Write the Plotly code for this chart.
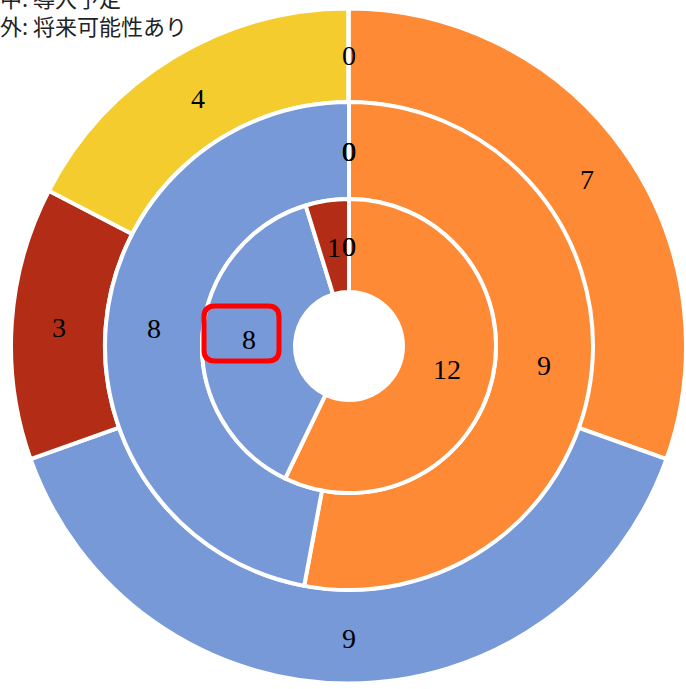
import math
import plotly.graph_objects as go

# ---- data ----
categories = ["導入済み", "検討中", "一部導入", "未定", "その他"]
inner_values = [12, 8, 1, 0, 0]
middle_values = [9, 8, 0, 0, 0]
outer_values = [7, 9, 3, 4, 0]
colors = ["#FF8A36", "#7799D8", "#B22C16", "#F4CC2E", "#A0A0A0"]
legend_lines = ["内: 導入済み", "中: 導入予定", "外: 将来可能性あり"]

# ---- layout geometry (screen pixels) ----
W, H = 686, 689
CX, CY = 349, 346
R_OUT, R_MID, R_IN, R_HOLE = 338, 244, 147, 54


def px(x):
    return x / W


def py(y):
    return 1 - y / H


def domain(r):
    return dict(x=[max(0, px(CX - r)), min(1, px(CX + r))],
                y=[max(0, py(CY + r)), min(1, py(CY - r))])


fig = go.Figure()
rings = [
    (outer_values, R_OUT, R_MID),
    (middle_values, R_MID, R_IN),
    (inner_values, R_IN, R_HOLE),
]
annotations = []
for vals, r_o, r_i in rings:
    fig.add_trace(go.Pie(
        labels=categories, values=vals, sort=False, direction="clockwise",
        rotation=0, hole=r_i / r_o, domain=domain(r_o),
        marker=dict(colors=colors, line=dict(color="white", width=4)),
        textinfo="none", hoverinfo="label+value", showlegend=False,
    ))
    total = sum(vals)
    cum = 0
    rm = (r_o + r_i) / 2
    for v in vals:
        mid = (cum + v / 2) / total * 2 * math.pi
        cum += v
        x = CX + rm * math.sin(mid)
        y = CY - rm * math.cos(mid)
        annotations.append(dict(
            x=px(x), y=py(y + 1), xref="paper", yref="paper", text=str(v),
            showarrow=False, xanchor="center", yanchor="middle",
            font=dict(family="Liberation Serif, DejaVu Serif, serif", size=28, color="black"),
        ))

annotations.append(dict(
    x=px(-2), y=py(43), xref="paper", yref="paper",
    text="<br>".join(legend_lines), showarrow=False, align="left",
    xanchor="left", yanchor="bottom",
    font=dict(family="Noto Sans CJK JP", size=22, color="#222222"),
))

# highlight box around inner blue label
x0, x1, y0, y1, r = 204, 279, 306, 361, 11
path = (
    f"M {px(x0 + r)},{py(y0)} L {px(x1 - r)},{py(y0)} "
    f"Q {px(x1)},{py(y0)} {px(x1)},{py(y0 + r)} "
    f"L {px(x1)},{py(y1 - r)} Q {px(x1)},{py(y1)} {px(x1 - r)},{py(y1)} "
    f"L {px(x0 + r)},{py(y1)} Q {px(x0)},{py(y1)} {px(x0)},{py(y1 - r)} "
    f"L {px(x0)},{py(y0 + r)} Q {px(x0)},{py(y0)} {px(x0 + r)},{py(y0)} Z"
)

fig.update_layout(
    width=W, height=H, margin=dict(l=0, r=0, t=0, b=0),
    paper_bgcolor="white", plot_bgcolor="white",
    annotations=annotations,
    shapes=[dict(type="path", path=path, xref="paper", yref="paper",
                 line=dict(color="#FF0000", width=5), fillcolor="rgba(0,0,0,0)")],
)

fig.write_html(
    "out.html",
    config={"displayModeBar": False},
    post_script="document.body.style.margin='0';document.body.style.overflow='hidden';",
)
